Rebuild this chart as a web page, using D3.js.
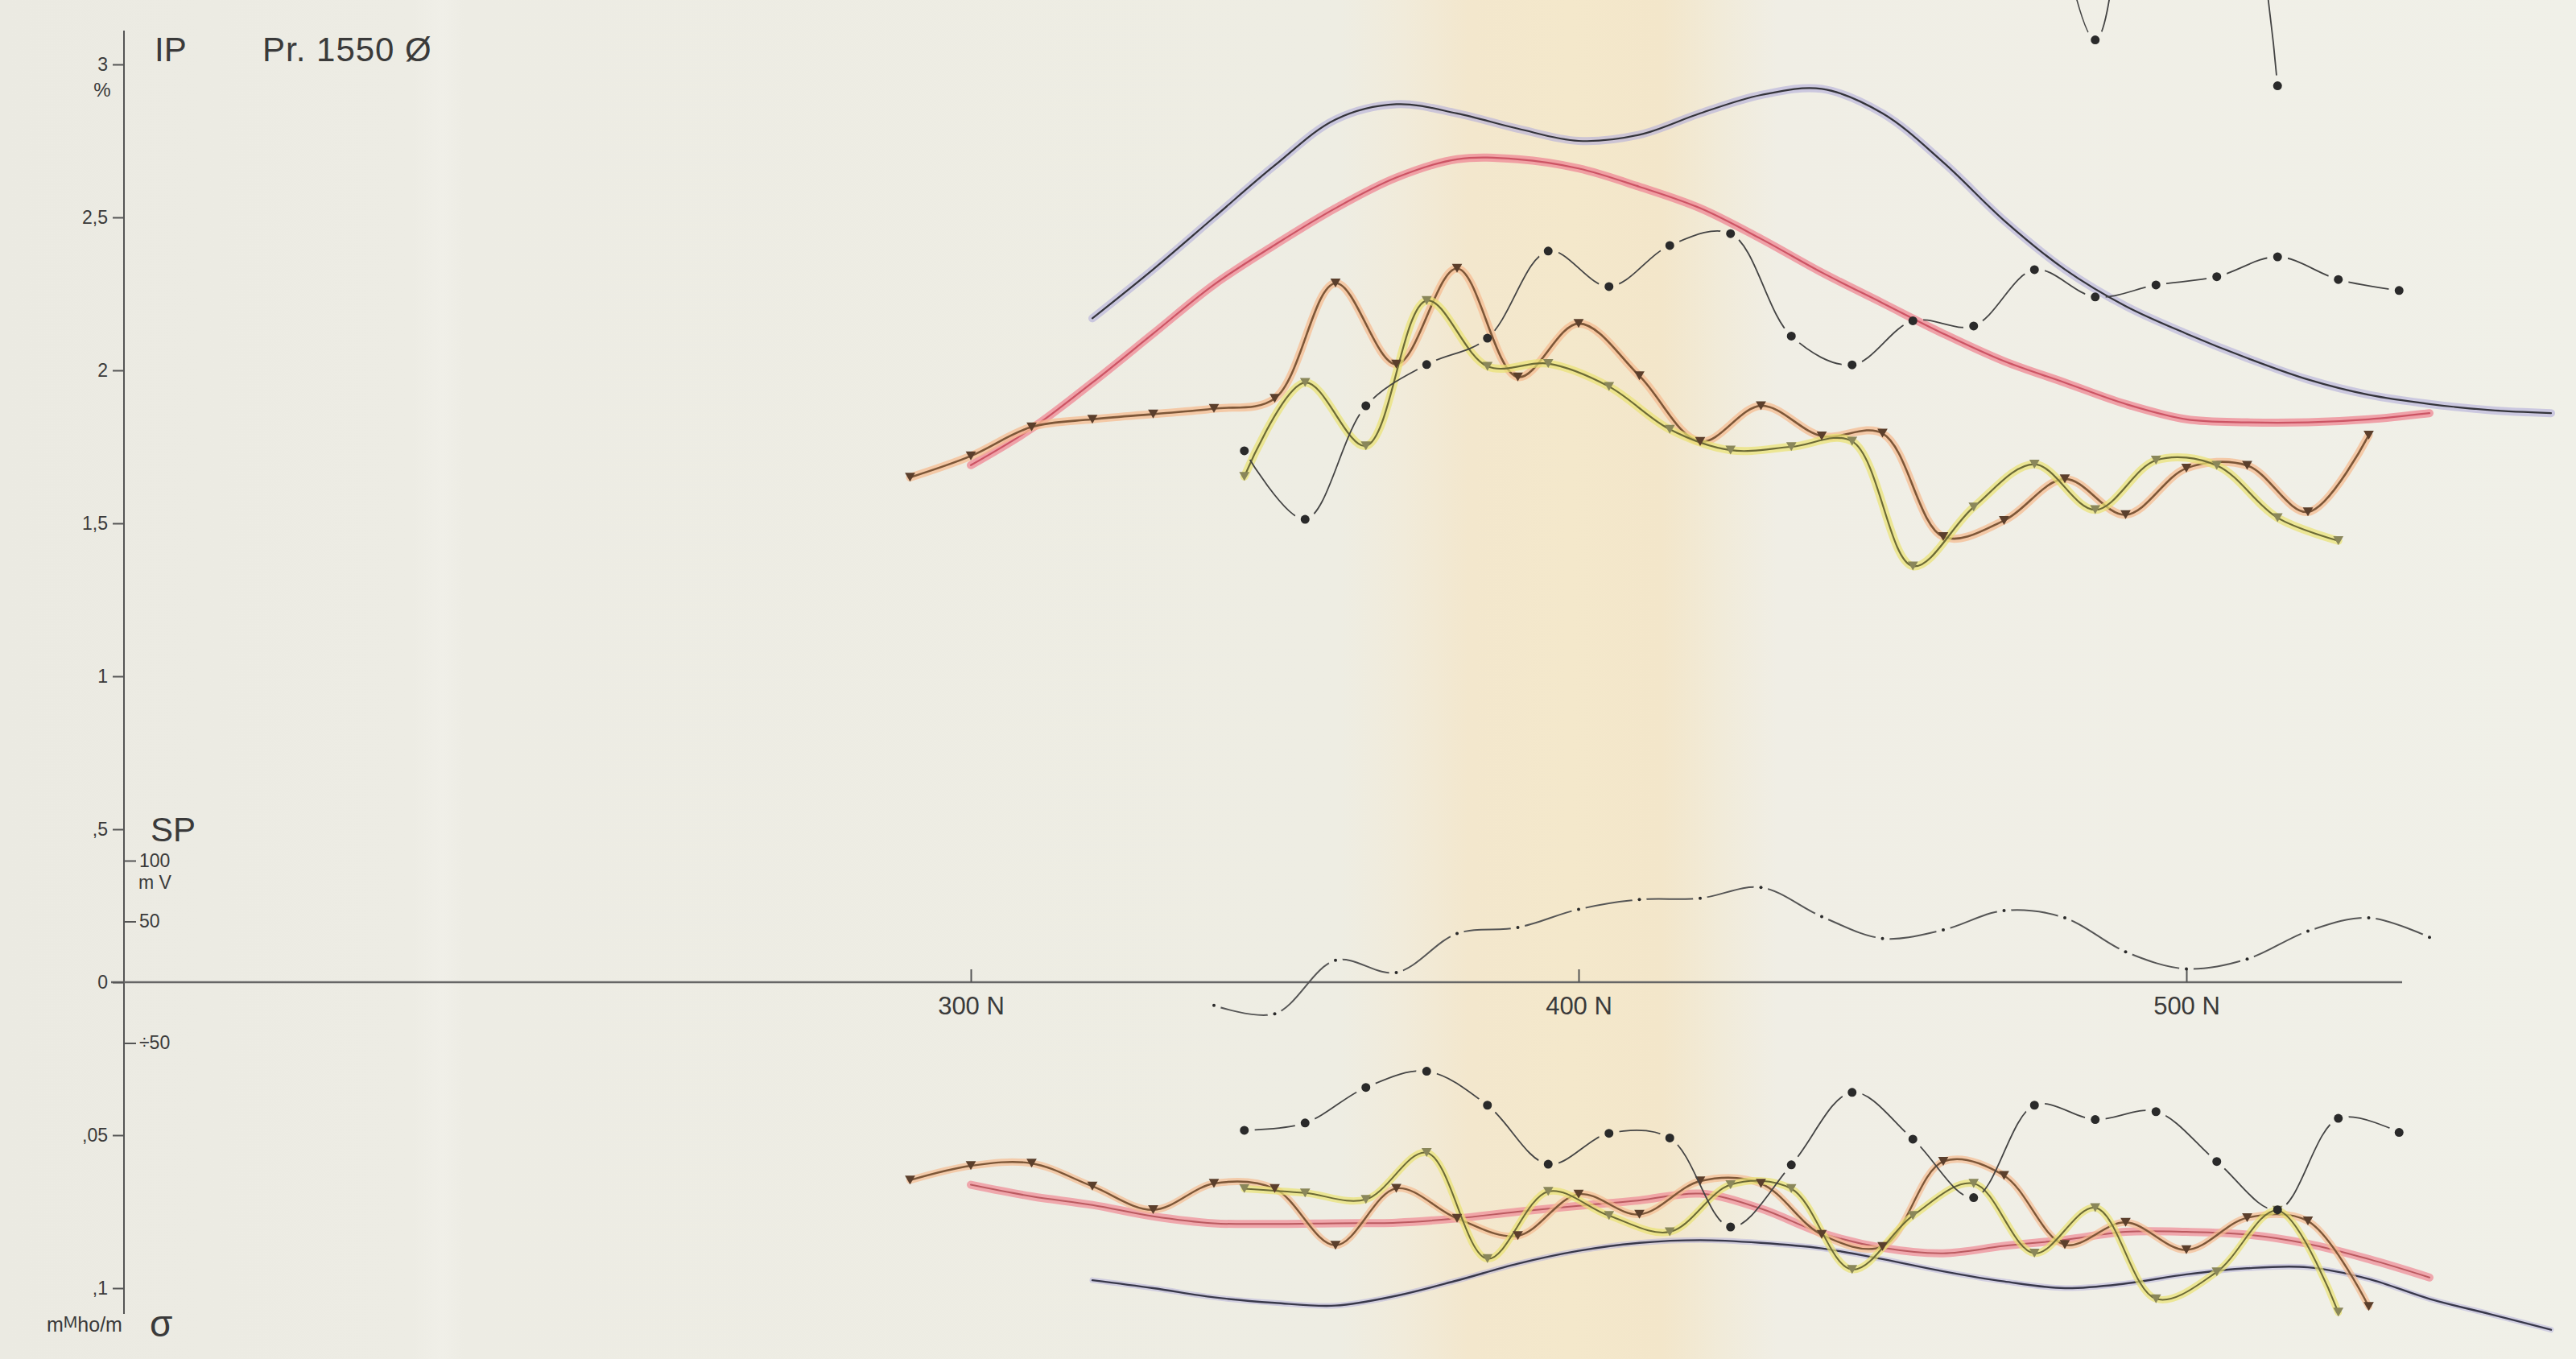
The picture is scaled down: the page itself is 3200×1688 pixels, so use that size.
<!DOCTYPE html>
<html lang="en">
<head>
<meta charset="utf-8">
<title>Pr. 1550 - IP, SP and conductivity</title>
<script src="https://cdn.jsdelivr.net/npm/d3@7"></script>
<style>
  body { margin: 0; background: #edece4; }
  svg text { font-family: "Liberation Sans", "DejaVu Sans", sans-serif; fill: #3a3a3a; }
  .axis path, .axis line { stroke: #555; stroke-width: 2; }
  .axis text { font-size: 23px; fill: #3a3a3a; }
  .x_axis text { font-size: 31px; }
</style>
</head>
<body>
<script>

// ---- data (station N, value) ----

// IP, %  (top panel)
var ipBlueN = [320, 330, 340, 350, 360, 370, 380, 390, 400, 410, 420, 430, 440, 450, 460, 470, 480, 490, 500, 510, 520, 530, 540, 550, 560];
var ipBlue  = [2.17, 2.33, 2.50, 2.67, 2.82, 2.87, 2.84, 2.79, 2.75, 2.77, 2.84, 2.90, 2.92, 2.84, 2.68, 2.49, 2.33, 2.21, 2.12, 2.04, 1.97, 1.92, 1.89, 1.87, 1.86];

var ipRedN = [300, 310, 320, 330, 340, 350, 360, 370, 380, 390, 400, 410, 420, 430, 440, 450, 460, 470, 480, 490, 500, 510, 520, 530, 540];
var ipRed  = [1.69, 1.81, 1.96, 2.12, 2.28, 2.41, 2.53, 2.63, 2.69, 2.69, 2.66, 2.60, 2.53, 2.43, 2.32, 2.22, 2.12, 2.03, 1.96, 1.89, 1.84, 1.83, 1.83, 1.84, 1.86];

var ipOrangeN = [290, 300, 310, 320, 330, 340, 350, 360, 370, 380, 390, 400, 410, 420, 430, 440, 450, 460, 470, 480, 490, 500, 510, 520, 530];
var ipOrange  = [1.65, 1.72, 1.815, 1.84, 1.857, 1.875, 1.908, 2.285, 2.02, 2.333, 1.978, 2.153, 1.982, 1.767, 1.884, 1.785, 1.794, 1.456, 1.509, 1.645, 1.528, 1.68, 1.689, 1.537, 1.788];

var ipYellowN = [345, 355, 365, 375, 385, 395, 405, 415, 425, 435, 445, 455, 465, 475, 485, 495, 505, 515, 525];
var ipYellow  = [1.653, 1.96, 1.753, 2.228, 2.013, 2.022, 1.947, 1.807, 1.739, 1.75, 1.768, 1.36, 1.553, 1.693, 1.544, 1.706, 1.689, 1.518, 1.443];

var ipBlackN = [345, 355, 365, 375, 385, 395, 405, 415, 425, 435, 445, 455, 465, 475, 485, 495, 505, 515, 525, 535];
var ipBlack  = [1.737, 1.513, 1.884, 2.019, 2.105, 2.39, 2.274, 2.408, 2.447, 2.112, 2.018, 2.162, 2.145, 2.329, 2.24, 2.279, 2.306, 2.371, 2.297, 2.261];

// second dotted IP series, mostly above the sheet edge
var ipHighN = [475, 485, 495, 505, 515];
var ipHigh  = [3.9, 3.08, 3.9, 3.9, 2.93];

// SP, mV
var spN = [340, 350, 360, 370, 380, 390, 400, 410, 420, 430, 440, 450, 460, 470, 480, 490, 500, 510, 520, 530, 540];
var sp  = [-19, -26, 18, 8, 40, 45, 60, 68, 69, 78, 54, 36, 43, 59, 53, 25, 11, 19, 42, 53, 37];

// conductivity sigma, mMho/m (bottom panel, increasing downward)
var sigBlackN = [345, 355, 365, 375, 385, 395, 405, 415, 425, 435, 445, 455, 465, 475, 485, 495, 505, 515, 525, 535];
var sigBlack  = [0.0484, 0.046, 0.0344, 0.0291, 0.0402, 0.0595, 0.0494, 0.0509, 0.08, 0.0597, 0.036, 0.0513, 0.0704, 0.0402, 0.0449, 0.0423, 0.0586, 0.0744, 0.0445, 0.0491];

var sigOrangeN = [290, 300, 310, 320, 330, 340, 350, 360, 370, 380, 390, 400, 410, 420, 430, 440, 450, 460, 470, 480, 490, 500, 510, 520, 530];
var sigOrange  = [0.0647, 0.060, 0.0592, 0.0667, 0.0744, 0.0658, 0.0675, 0.086, 0.0674, 0.0772, 0.0829, 0.0693, 0.0759, 0.065, 0.0658, 0.0825, 0.0864, 0.0586, 0.0632, 0.0858, 0.0785, 0.0875, 0.077, 0.0781, 0.106];

var sigYellowN = [345, 355, 365, 375, 385, 395, 405, 415, 425, 435, 445, 455, 465, 475, 485, 495, 505, 515, 525];
var sigYellow  = [0.0675, 0.0689, 0.071, 0.0557, 0.0904, 0.0684, 0.0763, 0.0816, 0.0662, 0.0675, 0.0939, 0.0763, 0.0658, 0.0886, 0.0737, 0.1035, 0.0947, 0.0746, 0.1079];

var sigRedN = [300, 310, 320, 330, 340, 350, 360, 370, 380, 390, 400, 410, 420, 430, 440, 450, 460, 470, 480, 490, 500, 510, 520, 530, 540];
var sigRed  = [0.0662, 0.070, 0.0728, 0.0765, 0.0788, 0.079, 0.0788, 0.0786, 0.0772, 0.075, 0.0731, 0.0713, 0.0691, 0.074, 0.082, 0.0868, 0.0886, 0.0862, 0.0842, 0.0816, 0.0816, 0.0825, 0.0855, 0.0905, 0.0965];

var sigBlueN = [320, 330, 340, 350, 360, 370, 380, 390, 400, 410, 420, 430, 440, 450, 460, 470, 480, 490, 500, 510, 520, 530, 540, 550, 560];
var sigBlue  = [0.0974, 0.100, 0.103, 0.1048, 0.1057, 0.1025, 0.0975, 0.092, 0.0878, 0.0852, 0.0843, 0.0852, 0.087, 0.0905, 0.0945, 0.0978, 0.100, 0.0985, 0.0955, 0.0935, 0.0932, 0.097, 0.1035, 0.1085, 0.1136];

// tick values and their labels as written on the sheet
var ipTicks = [3, 2.5, 2, 1.5, 1, 0.5, 0];
var ipTickLabels = ["3", "2,5", "2", "1,5", "1", ",5", "0"];
var sigTicks = [0.05, 0.1];
var sigTickLabels = [",05", ",1"];
var spTicks = [100, 50, -50];
var spTickLabels = ["100", "50", "\u00f750"];
var xTicks = [300, 400, 500];

// ---- layout ----
var w = 3200;
var h = 1688;
var axisX = 154;
var zeroY = 1220;

var x = d3.scaleLinear().domain([300, 500]).range([1206, 2716]);
var yIP = d3.scaleLinear().domain([0, 3]).range([zeroY, 80]);
var ySP = d3.scaleLinear().domain([0, 100]).range([zeroY, 1069]);
var ySig = d3.scaleLinear().domain([0, 0.1]).range([zeroY, 1600]);

var svg = d3.select("body").append("svg")
    .attr("width", w)
    .attr("height", h);

var defs = svg.append("defs");

// paper colour with the yellowed fold band around 400 N
var grad = defs.append("linearGradient").attr("id", "paper")
    .attr("x1", 0).attr("x2", 1).attr("y1", 0).attr("y2", 0);
[[0, "#ebeae2"], [0.16, "#edece4"], [0.172, "#f0efe8"], [0.18, "#edece4"], [0.52, "#eeede3"],
 [0.545, "#f1ebda"], [0.57, "#f3e7cd"], [0.61, "#f4e8cb"], [0.645, "#f3e6ca"], [0.668, "#f1ebd9"],
 [0.69, "#f0eee5"], [1, "#f0f0e8"]].forEach(function(s) {
    grad.append("stop").attr("offset", s[0]).attr("stop-color", s[1]);
});

svg.append("rect")
    .attr("width", w).attr("height", h)
    .attr("fill", "url(#paper)");

// ---- axes ----
svg.append("line")
    .attr("x1", axisX).attr("x2", axisX)
    .attr("y1", 38).attr("y2", 1632)
    .attr("stroke", "#555").attr("stroke-width", 2);

svg.append("line")   // zero line, shared by IP, SP and sigma
    .attr("x1", 138).attr("x2", 2984)
    .attr("y1", zeroY).attr("y2", zeroY)
    .attr("stroke", "#666").attr("stroke-width", 2.5);

var ipAxis = d3.axisLeft(yIP)
    .tickValues(ipTicks)
    .tickFormat(function(d, i) { return ipTickLabels[i]; })
    .tickSize(14).tickPadding(6);
svg.append("g").attr("class", "axis")
    .attr("transform", "translate(" + axisX + ",0)")
    .call(ipAxis)
    .select(".domain").remove();

var sigAxis = d3.axisLeft(ySig)
    .tickValues(sigTicks)
    .tickFormat(function(d, i) { return sigTickLabels[i]; })
    .tickSize(14).tickPadding(6);
svg.append("g").attr("class", "axis")
    .attr("transform", "translate(" + axisX + ",0)")
    .call(sigAxis)
    .select(".domain").remove();

var spAxis = d3.axisRight(ySP)
    .tickValues(spTicks)
    .tickFormat(function(d, i) { return spTickLabels[i]; })
    .tickSize(14).tickPadding(4);
svg.append("g").attr("class", "axis")
    .attr("transform", "translate(" + (axisX + 1) + ",0)")
    .call(spAxis)
    .select(".domain").remove();

var xAxis = d3.axisBottom(x)
    .tickValues(xTicks)
    .tickFormat(function(d) { return d + " N"; })
    .tickSize(-16).tickPadding(18);
svg.append("g").attr("class", "axis x_axis")
    .attr("transform", "translate(0," + zeroY + ")")
    .call(xAxis)
    .select(".domain").remove();

// titles and units
svg.append("text").attr("x", 192).attr("y", 76).style("font-size", "42px").text("IP");
svg.append("text").attr("x", 326).attr("y", 76).style("font-size", "42px").style("letter-spacing", "1px").text("Pr. 1550 \u00d8");
svg.append("text").attr("x", 127).attr("y", 120).attr("text-anchor", "middle").style("font-size", "24px").text("%");
svg.append("text").attr("x", 187).attr("y", 1045).style("font-size", "42px").text("SP");
svg.append("text").attr("x", 172).attr("y", 1104).style("font-size", "23px").text("m V");
var unit = svg.append("text").attr("x", 58).attr("y", 1654).style("font-size", "25px");
unit.append("tspan").text("m");
unit.append("tspan").attr("dy", -5).style("font-size", "21px").text("M");
unit.append("tspan").attr("dy", 5).text("ho/m");
svg.append("text").attr("x", 186).attr("y", 1660).style("font-size", "46px").text("\u03c3");

// ---- curves ----
function pts(n, v) { return d3.zip(n, v); }

function lineFor(yScale) {
    return d3.line()
        .x(function(d) { return x(d[0]); })
        .y(function(d) { return yScale(d[1]); })
        .curve(d3.curveCatmullRom.alpha(0.5));
}

// a hand-coloured curve: wide pale crayon stroke under a thin ink line
function drawCrayon(data, yScale, crayon, crayonW, crayonOp, ink, inkW) {
    var path = lineFor(yScale)(data);
    svg.append("path").attr("d", path)
        .attr("fill", "none").attr("stroke", crayon)
        .attr("stroke-width", crayonW).attr("stroke-opacity", crayonOp)
        .attr("stroke-linecap", "round").attr("stroke-linejoin", "round");
    svg.append("path").attr("d", path)
        .attr("fill", "none").attr("stroke", ink)
        .attr("stroke-width", inkW)
        .attr("stroke-linecap", "round");
}

function drawTriangles(data, yScale, fill) {
    svg.append("g").selectAll("path")
        .data(data).enter().append("path")
        .attr("d", d3.symbol().type(d3.symbolTriangle).size(70))
        .attr("transform", function(d) { return "translate(" + x(d[0]) + "," + (yScale(d[1]) - 2) + ") rotate(180)"; })
        .attr("fill", fill);
}

// gaps in the ink line around each dot, as on the drawing
function gapMask(id, groups, r) {
    var m = defs.append("mask").attr("id", id)
        .attr("maskUnits", "userSpaceOnUse")
        .attr("x", 0).attr("y", 0).attr("width", w).attr("height", h);
    m.append("rect").attr("width", w).attr("height", h).attr("fill", "white");
    groups.forEach(function(g) {
        m.selectAll(null).data(g.data).enter().append("circle")
            .attr("cx", function(d) { return x(d[0]); })
            .attr("cy", function(d) { return g.y(d[1]); })
            .attr("r", r).attr("fill", "black");
    });
}

function drawDotted(data, yScale, mask, dotR, stroke, strokeW) {
    svg.append("path").attr("d", lineFor(yScale)(data))
        .attr("fill", "none").attr("stroke", stroke)
        .attr("stroke-width", strokeW)
        .attr("mask", "url(#" + mask + ")");
    svg.append("g").selectAll("circle")
        .data(data).enter().append("circle")
        .attr("cx", function(d) { return x(d[0]); })
        .attr("cy", function(d) { return yScale(d[1]); })
        .attr("r", dotR).attr("fill", "#2a2a2a");
}

var ipBlackPts = pts(ipBlackN, ipBlack);
var ipHighPts = pts(ipHighN, ipHigh);
var sigBlackPts = pts(sigBlackN, sigBlack);
var spPts = pts(spN, sp);

gapMask("gapDots", [
    {data: ipBlackPts, y: yIP},
    {data: ipHighPts, y: yIP},
    {data: sigBlackPts, y: ySig}
], 13);
gapMask("gapSP", [{data: spPts, y: ySP}], 9);

// SP
drawDotted(spPts, ySP, "gapSP", 2, "#555", 2);

// IP panel
drawCrayon(pts(ipBlueN, ipBlue), yIP, "#b2aedb", 10, 0.6, "#34343a", 2.2);
drawCrayon(pts(ipRedN, ipRed), yIP, "#ef8d98", 10, 0.8, "#cc5464", 2.2);
drawCrayon(pts(ipOrangeN, ipOrange), yIP, "#f5bc92", 10, 0.75, "#7d5738", 2.6);
drawCrayon(pts(ipYellowN, ipYellow), yIP, "#e9e272", 10, 0.7, "#6c6a36", 2.2);
drawTriangles(pts(ipOrangeN, ipOrange), yIP, "#5b3f2c");
drawTriangles(pts(ipYellowN, ipYellow), yIP, "#8a875a");
drawDotted(ipBlackPts, yIP, "gapDots", 5.5, "#444", 1.8);
drawDotted(ipHighPts, yIP, "gapDots", 5.5, "#444", 1.8);

// conductivity panel
drawCrayon(pts(sigBlueN, sigBlue), ySig, "#b2aedb", 7, 0.5, "#38384a", 2.4);
drawCrayon(pts(sigRedN, sigRed), ySig, "#ef8f99", 10, 0.75, "#bb5a60", 2);
drawCrayon(pts(sigOrangeN, sigOrange), ySig, "#f5bc92", 9, 0.7, "#7d5738", 2.4);
drawCrayon(pts(sigYellowN, sigYellow), ySig, "#e9e272", 9, 0.7, "#6c6a36", 2);
drawTriangles(pts(sigOrangeN, sigOrange), ySig, "#5b3f2c");
drawTriangles(pts(sigYellowN, sigYellow), ySig, "#8a875a");
drawDotted(sigBlackPts, ySig, "gapDots", 5.5, "#444", 1.8);

</script>
</body>
</html>
